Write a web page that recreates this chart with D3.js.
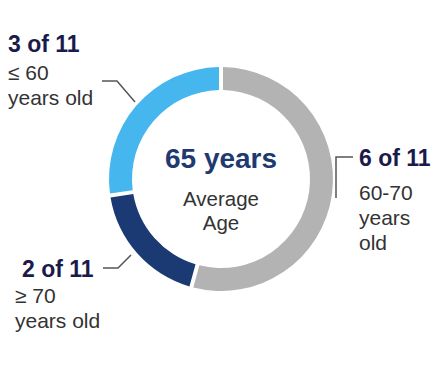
<!DOCTYPE html>
<html>
<head>
<meta charset="utf-8">
<script src="https://cdn.jsdelivr.net/npm/d3@7"></script>
<style>
  body { margin: 0; background: #fff; }
  text { font-family: "Liberation Sans", Arial, sans-serif; }
</style>
</head>
<body>
<svg width="442" height="384"></svg>
<script>
// data
var groups = ["60-70", "≥ 70", "≤ 60"];
var counts = [6, 2, 3];
var total = 11;
var sliceColors = ["#b3b3b3", "#1b3a73", "#45b6ee"];
var avgAge = "65 years";

var svg = d3.select("svg"),
    width = +svg.attr("width"),
    height = +svg.attr("height");

var cx = 221, cy = 179, outerR = 112, innerR = 89;

var pie = d3.pie().sort(null).value(function(d) { return d; }).padAngle(0.028);
var arc = d3.arc().innerRadius(innerR).outerRadius(outerR);

var g = svg.append("g").attr("transform", "translate(" + cx + "," + cy + ")");

g.selectAll("path")
  .data(pie(counts))
  .enter().append("path")
  .attr("d", arc)
  .attr("fill", function(d, i) { return sliceColors[i]; });

// centre text
g.append("text").attr("text-anchor", "middle").attr("y", -11)
  .style("font-weight", "bold").style("font-size", "28px").attr("fill", "#1f3a70")
  .text(avgAge);
g.append("text").attr("text-anchor", "middle").attr("y", 27)
  .style("font-size", "20.5px").attr("fill", "#333")
  .text("Average");
g.append("text").attr("text-anchor", "middle").attr("y", 51)
  .style("font-size", "20.5px").attr("fill", "#333")
  .text("Age");

// label positions (one per slice)
var labelPos = [
  {x: 359, y: 166, lines: ["60-70", "years", "old"], first: 34},
  {x: 22, y: 277, lines: ["≥ 70", "years old"], subX: 15, first: 26},
  {x: 8, y: 52, lines: ["≤ 60", "years old"], first: 28}
];
var leaders = [
  [[336, 198], [336, 157], [353, 157]],
  [[103, 268], [118, 268], [131, 255]],
  [[102, 81], [117, 81], [135, 102]]
];

var line = d3.line();
svg.selectAll("path.leader")
  .data(leaders)
  .enter().append("path")
  .attr("class", "leader")
  .attr("d", line)
  .attr("fill", "none")
  .attr("stroke", "#555")
  .attr("stroke-width", 1.5);

labelPos.forEach(function(p, i) {
  svg.append("text").attr("x", p.x).attr("y", p.y)
    .style("font-weight", "bold").style("font-size", "23px").attr("fill", "#1a1a4b")
    .text(counts[i] + " of " + total);
  var sx = p.subX != null ? p.subX : p.x;
  p.lines.forEach(function(t, j) {
    svg.append("text").attr("x", sx).attr("y", p.y + p.first + j * 25)
      .style("font-size", "21px").attr("fill", "#333")
      .text(t);
  });
});
</script>
</body>
</html>
